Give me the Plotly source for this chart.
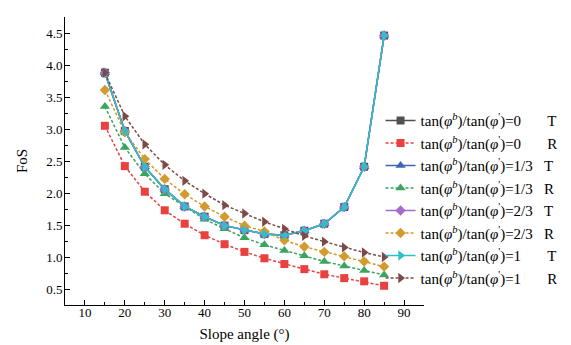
import plotly.graph_objects as go

angles = [15, 20, 25, 30, 35, 40, 45, 50, 55, 60, 65, 70, 75, 80, 85]

fos_0_T = [3.88, 2.97, 2.41, 2.06, 1.79, 1.63, 1.49, 1.42, 1.36, 1.34, 1.41, 1.52, 1.78, 2.41, 4.46]
fos_0_R = [3.05, 2.42, 2.02, 1.73, 1.52, 1.34, 1.20, 1.08, 0.98, 0.89, 0.81, 0.73, 0.67, 0.62, 0.55]
fos_13_T = [3.88, 2.97, 2.41, 2.06, 1.79, 1.63, 1.49, 1.42, 1.36, 1.34, 1.41, 1.52, 1.78, 2.41, 4.46]
fos_13_R = [3.35, 2.71, 2.30, 1.99, 1.79, 1.59, 1.44, 1.30, 1.19, 1.10, 1.02, 0.93, 0.86, 0.79, 0.72]
fos_23_T = [3.88, 2.97, 2.41, 2.06, 1.79, 1.63, 1.49, 1.42, 1.36, 1.34, 1.41, 1.52, 1.78, 2.41, 4.46]
fos_23_R = [3.61, 2.95, 2.53, 2.22, 1.98, 1.79, 1.63, 1.49, 1.40, 1.26, 1.16, 1.08, 1.01, 0.93, 0.85]
fos_1_T = [3.88, 2.97, 2.41, 2.06, 1.79, 1.63, 1.49, 1.42, 1.36, 1.34, 1.41, 1.52, 1.78, 2.41, 4.46]
fos_1_R = [3.88, 3.20, 2.76, 2.44, 2.19, 1.99, 1.81, 1.68, 1.55, 1.44, 1.33, 1.24, 1.15, 1.07, 1.00]

ratio_labels = ["0", "0", "1/3", "1/3", "2/3", "2/3", "1", "1"]
case_labels = ["T", "R", "T", "R", "T", "R", "T", "R"]

series = [fos_0_T, fos_0_R, fos_13_T, fos_13_R, fos_23_T, fos_23_R, fos_1_T, fos_1_R]
colors = ["#505050", "#e8413f", "#3d67b5", "#3aa55e", "#a46ccb", "#d29b2e", "#2fbfc6", "#7b4c47"]
symbols = ["square", "square", "triangle-up", "triangle-up", "diamond", "diamond", "triangle-right", "triangle-right"]

NB = "\u00a0"
fig = go.Figure()
for vals, r, c, col, sym in zip(series, ratio_labels, case_labels, colors, symbols):
    pad = NB * (7 if len(r) == 1 else 3)
    name = f"tan(<i>φ</i><sup><i>b</i></sup>)/tan(<i>φ</i><sup>'</sup>)={r}{pad}{c}"
    fig.add_trace(go.Scatter(
        x=angles, y=vals, mode="lines+markers", name=name,
        line=dict(color=col, width=1.5, dash="solid" if c == "T" else "3px,2px"),
        marker=dict(symbol=sym, size=9 if "triangle" in sym else 8, color=col),
    ))

font = "Liberation Serif, Times New Roman, serif"
fig.update_layout(
    width=571, height=345,
    margin=dict(l=57, r=155, t=9, b=48),
    plot_bgcolor="white", paper_bgcolor="white",
    font=dict(family=font, size=13, color="black"),
    legend=dict(x=0.879, y=0.697, xanchor="left", yanchor="top",
                bgcolor="rgba(0,0,0,0)", font=dict(family=font, size=15),
                tracegroupgap=0),
    xaxis=dict(range=[5, 95], tick0=10, dtick=10, ticks="inside", ticklen=5,
               tickwidth=1, tickcolor="black", showline=True, linecolor="black",
               linewidth=1, showgrid=False, zeroline=False, ticklabelstandoff=-5,
               minor=dict(dtick=5, tick0=5, ticks="inside", ticklen=3, tickcolor="black"),
               title=dict(text="Slope angle (°)", font=dict(size=15), standoff=9),
               tickfont=dict(size=13)),
    yaxis=dict(range=[0.25, 4.75], tick0=0.5, dtick=0.5, tickformat=".1f",
               ticks="inside", ticklen=5, tickwidth=1, tickcolor="black",
               showline=True, linecolor="black", linewidth=1, showgrid=False,
               zeroline=False, ticklabelstandoff=-1,
               minor=dict(dtick=0.25, tick0=0.25, ticks="inside", ticklen=3, tickcolor="black"),
               title=dict(text="FoS", font=dict(size=15), standoff=14),
               tickfont=dict(size=13)),
)

fig.write_html("out.html")
